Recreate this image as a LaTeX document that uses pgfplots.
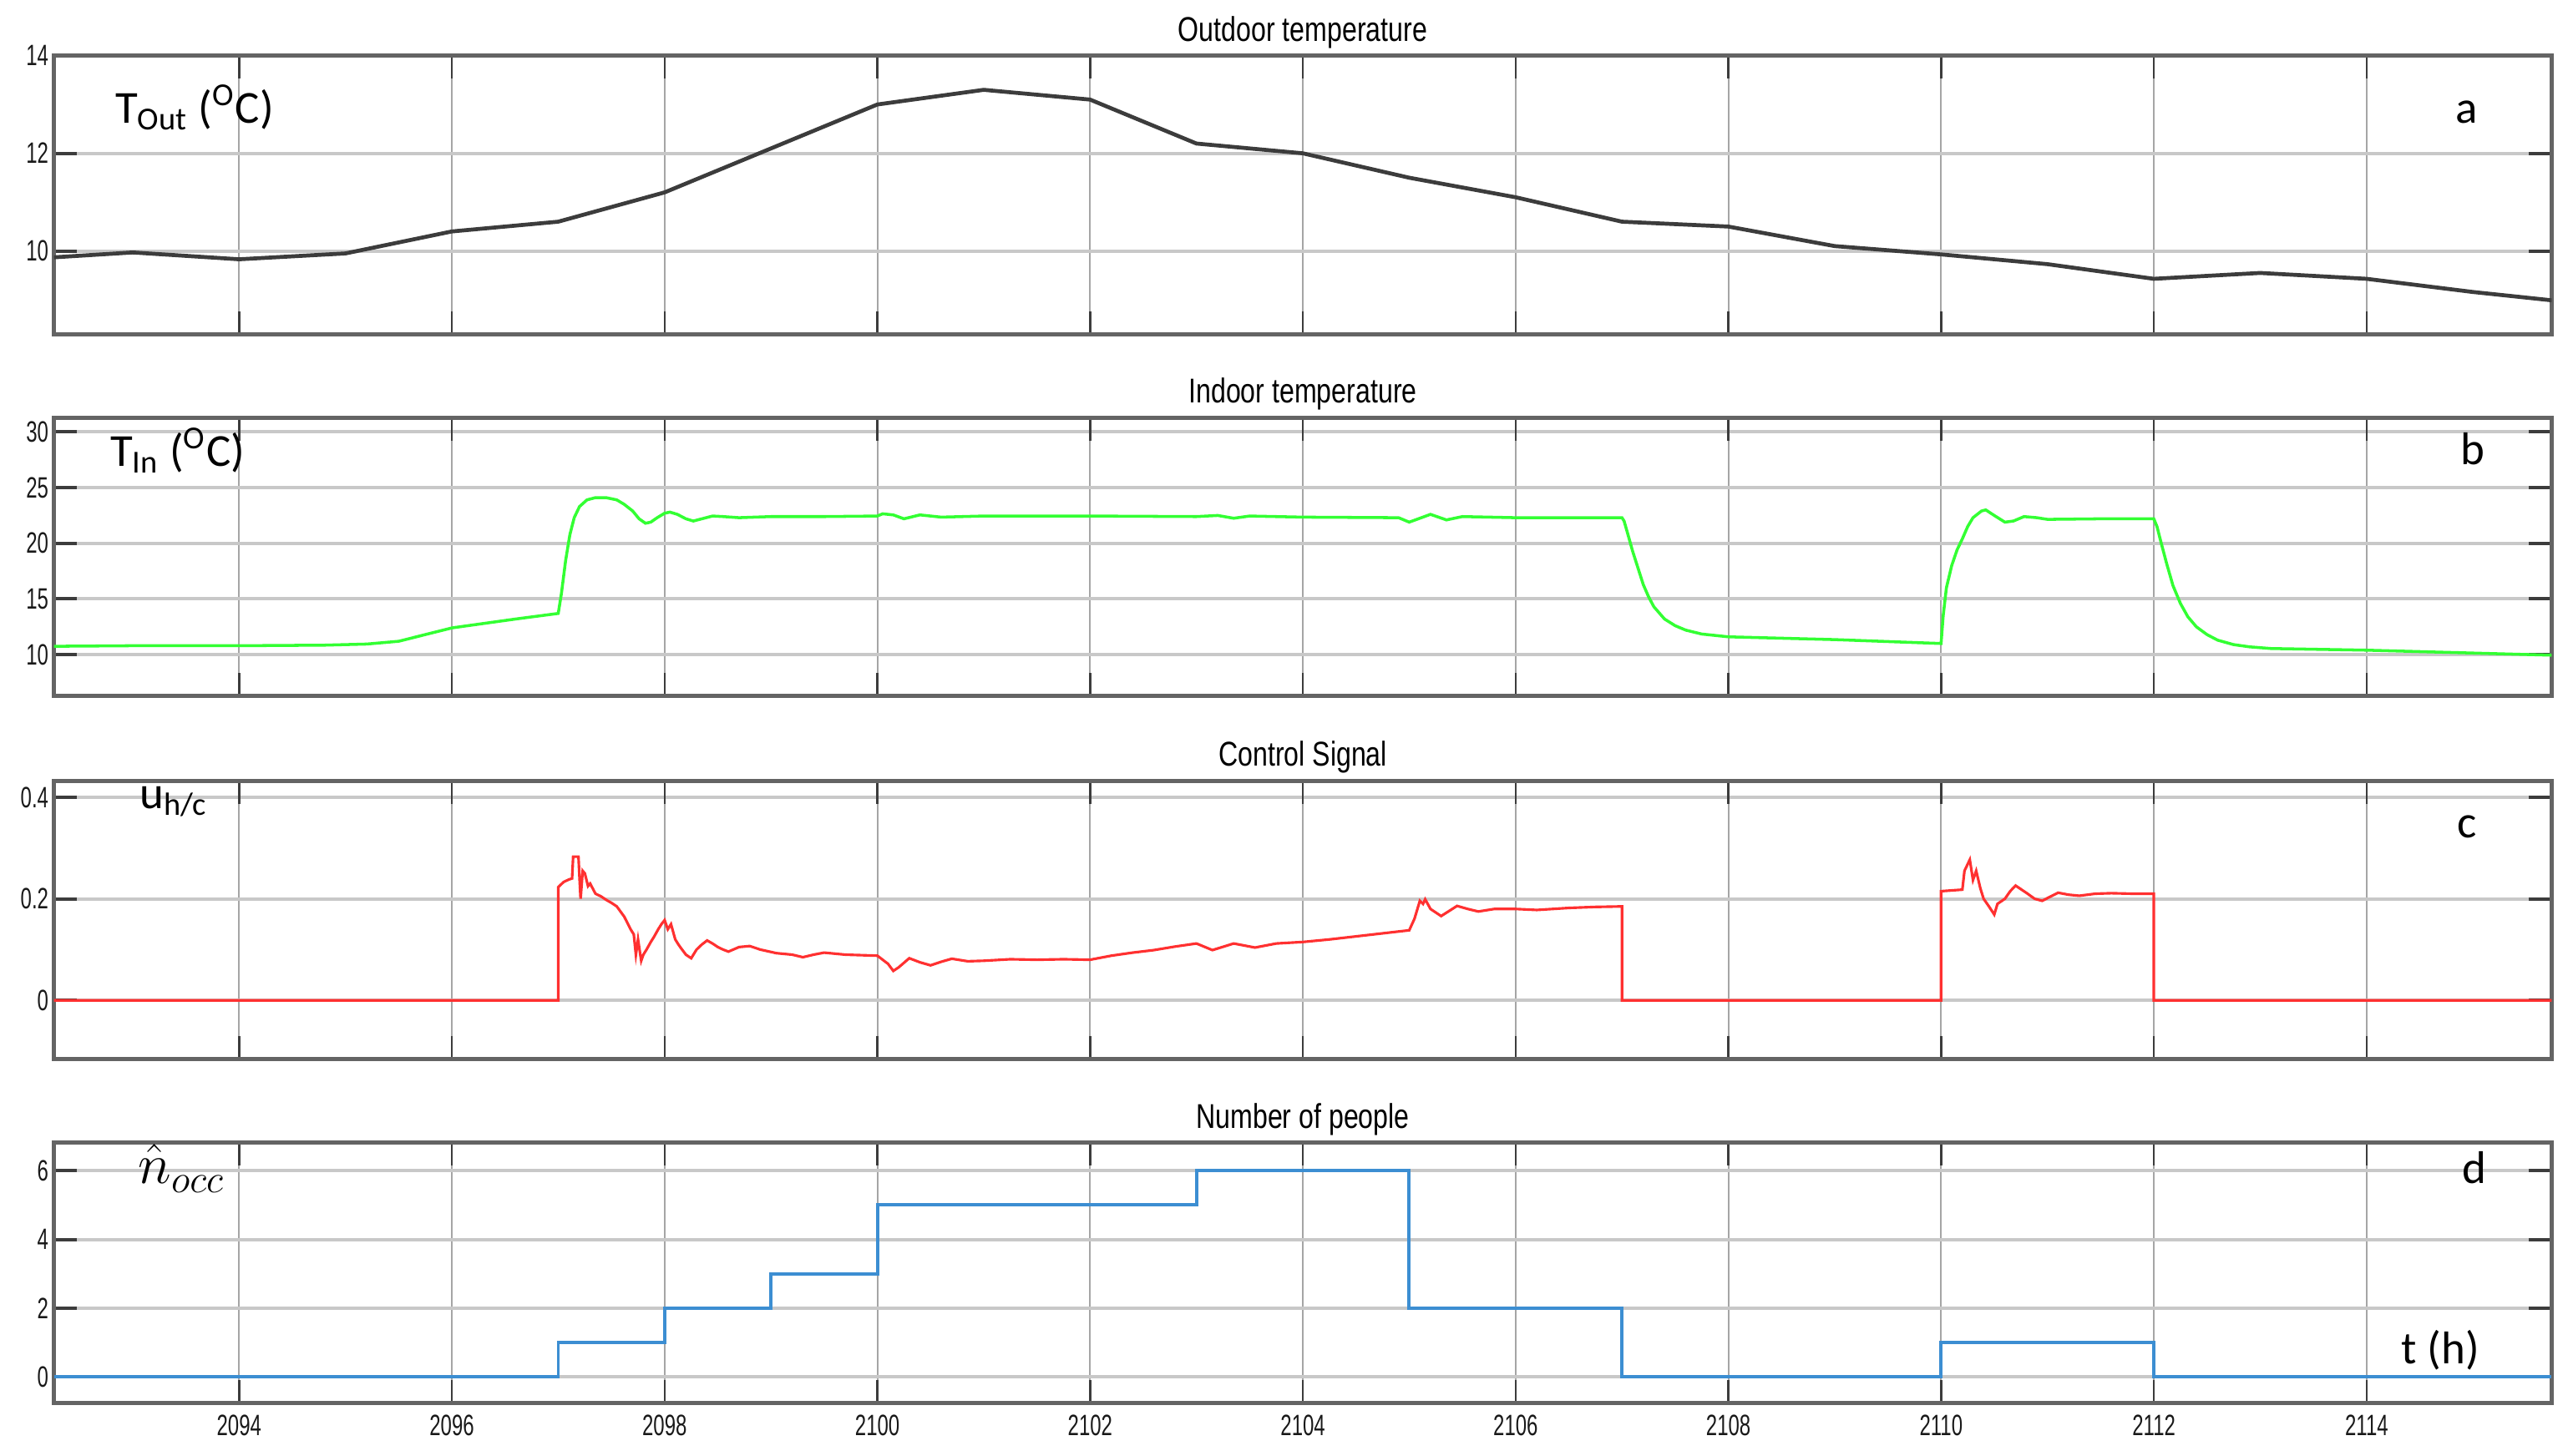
\documentclass[border=0pt]{standalone}
\usepackage{fontspec}
\usepackage{pgfplots}
\pgfplotsset{compat=1.18}
\setmainfont{Liberation Sans}
\newfontfamily\condfont[FakeStretch=0.78]{Liberation Sans}
\newfontfamily\tickfont[FakeStretch=0.68]{Liberation Sans}
\newfontfamily\calfont{Carlito}
\definecolor{hgrid}{RGB}{200,200,200}
\definecolor{vgrid}{RGB}{165,165,165}
\definecolor{tickc}{RGB}{60,60,60}
\definecolor{framec}{RGB}{100,100,100}
\definecolor{outc}{RGB}{60,60,60}
\definecolor{inc}{RGB}{51,255,51}
\definecolor{ctrlc}{RGB}{255,48,48}
\definecolor{occc}{RGB}{60,142,210}
\pgfplotsset{
  every axis title shift=0pt,
  panel/.style={
    scale only axis, width=762.5pt, xmin=2092.26, xmax=2115.74,
    xtick={2094,2096,...,2114}, grid=major,
    tick align=inside, major tick length=7pt,
    x grid style={color=vgrid, line width=0.5pt},
    y grid style={color=hgrid, line width=1pt},
    xtick style={color=tickc, line width=0.6pt},
    ytick style={color=tickc, line width=1pt},
    axis line style={color=framec, line width=1.3pt},
    /pgf/number format/assume math mode=true,
    /pgf/number format/1000 sep={},
    ticklabel style={font=\tickfont\fontsize{9}{10}\selectfont, color=black!90},
    yticklabel style={inner sep=1.5pt},
    title style={font=\condfont\fontsize{10.5}{12}\selectfont, at={(0.5,1)}, anchor=base, yshift=4.5pt},
    anchor=south west,
  }
}
\begin{document}
\begin{tikzpicture}
\useasboundingbox (0,0) rectangle (784pt,444.5pt);
% Panel a
\begin{axis}[panel, at={(16.5pt,342.5pt)}, height=85pt, ymin=8.3, ymax=14,
  ytick={10,12,14}, xticklabels={}, title={Outdoor temperature}]
\addplot[color=outc, line width=1.2pt] coordinates {
(2092.26,9.87) (2093,9.97) (2094,9.83) (2095,9.95) (2096,10.4) (2097,10.6)
(2098,11.2) (2099,12.1) (2100,13.0) (2101,13.3) (2102,13.1) (2103,12.2)
(2104,12.0) (2105,11.5) (2106,11.1) (2107,10.6) (2108,10.5) (2109,10.1)
(2110,9.93) (2111,9.73) (2112,9.43) (2113,9.55) (2114,9.43) (2115,9.16) (2115.74,8.99)};
\end{axis}
% Panel b
\begin{axis}[panel, at={(16.5pt,232pt)}, height=85pt, ymin=6.3, ymax=31.3,
  ytick={10,15,20,25,30}, xticklabels={}, title={Indoor temperature}]
\addplot[color=inc, line width=0.9pt] coordinates {
(2092.26,10.75) (2093,10.8) (2094,10.8) (2094.8,10.85) (2095.2,10.95) (2095.5,11.2)
(2095.75,11.8) (2096,12.4) (2096.3,12.8) (2096.6,13.2) (2097,13.7)
(2097.03,15.5) (2097.07,18.5) (2097.11,20.8) (2097.15,22.3) (2097.2,23.3) (2097.27,23.9)
(2097.35,24.1) (2097.45,24.1) (2097.55,23.9) (2097.62,23.5) (2097.7,22.9) (2097.76,22.2)
(2097.82,21.8) (2097.87,21.9) (2097.93,22.3) (2098.0,22.7) (2098.05,22.8) (2098.12,22.6)
(2098.2,22.2) (2098.27,22.0) (2098.35,22.2) (2098.45,22.45) (2098.55,22.4) (2098.7,22.3)
(2099,22.4) (2099.5,22.4) (2100,22.45) (2100.05,22.65) (2100.15,22.55)
(2100.25,22.2) (2100.4,22.55) (2100.6,22.35) (2101,22.45) (2102,22.45) (2103,22.4)
(2103.2,22.5) (2103.35,22.25) (2103.5,22.45) (2104,22.35) (2104.9,22.3) (2105,21.9)
(2105.2,22.6) (2105.35,22.1) (2105.5,22.4) (2106,22.3) (2107,22.3)
(2107.02,22.0) (2107.05,21.0) (2107.1,19.3) (2107.15,17.8) (2107.2,16.3) (2107.25,15.2)
(2107.3,14.3) (2107.4,13.2) (2107.5,12.6) (2107.6,12.2) (2107.75,11.85) (2107.9,11.7)
(2108,11.6) (2109,11.35) (2110,11.0)
(2110.02,13.5) (2110.05,16.0) (2110.1,18.0) (2110.15,19.4) (2110.2,20.4) (2110.25,21.5)
(2110.3,22.3) (2110.38,22.9) (2110.42,23.0) (2110.5,22.5) (2110.6,21.9) (2110.68,22.0)
(2110.78,22.4) (2110.9,22.3) (2111,22.15) (2111.5,22.2) (2112,22.2)
(2112.03,21.5) (2112.07,20.0) (2112.12,18.2) (2112.18,16.2) (2112.25,14.6) (2112.32,13.4)
(2112.4,12.5) (2112.5,11.8) (2112.6,11.3) (2112.75,10.9) (2112.9,10.7) (2113.1,10.55)
(2114,10.4) (2115.74,9.95)};
\end{axis}
% Panel c
\begin{axis}[panel, at={(16.5pt,121pt)}, height=85pt, ymin=-0.116, ymax=0.432,
  ytick={0,0.2,0.4}, xticklabels={}, title={Control Signal}]
\addplot[color=ctrlc, line width=0.8pt] coordinates {
(2092.26,0) (2097,0) (2097,0.223) (2097.05,0.233) (2097.1,0.238) (2097.13,0.24)
(2097.14,0.283) (2097.19,0.283) (2097.2,0.24) (2097.21,0.2) (2097.23,0.255) (2097.25,0.25)
(2097.28,0.225) (2097.3,0.23) (2097.35,0.21) (2097.4,0.205) (2097.45,0.198) (2097.5,0.192)
(2097.55,0.185) (2097.62,0.165) (2097.68,0.14) (2097.71,0.13) (2097.73,0.09) (2097.75,0.12)
(2097.78,0.078) (2097.8,0.09) (2097.83,0.1) (2097.87,0.115) (2097.9,0.125) (2097.94,0.14)
(2097.97,0.15) (2098.0,0.158) (2098.03,0.14) (2098.06,0.15) (2098.1,0.12) (2098.13,0.11)
(2098.15,0.104) (2098.2,0.09) (2098.25,0.083) (2098.3,0.1) (2098.35,0.11) (2098.4,0.118)
(2098.45,0.112) (2098.5,0.105) (2098.55,0.1) (2098.6,0.096) (2098.7,0.105) (2098.8,0.107)
(2098.9,0.1) (2099.05,0.093) (2099.2,0.09) (2099.3,0.085) (2099.4,0.09) (2099.5,0.094)
(2099.7,0.09) (2100,0.088) (2100.1,0.072) (2100.15,0.058) (2100.2,0.065)
(2100.3,0.083) (2100.4,0.075) (2100.5,0.069) (2100.6,0.076) (2100.7,0.082) (2100.85,0.077)
(2101,0.078) (2101.25,0.081) (2101.5,0.08) (2101.75,0.081) (2102,0.08) (2102.2,0.088)
(2102.4,0.094) (2102.6,0.099) (2102.8,0.106) (2103,0.112) (2103.15,0.099) (2103.35,0.112)
(2103.55,0.104) (2103.75,0.112) (2104,0.115) (2104.25,0.12) (2104.5,0.126) (2104.75,0.132)
(2105,0.138) (2105.05,0.161) (2105.1,0.196) (2105.13,0.19) (2105.15,0.199) (2105.2,0.18)
(2105.3,0.166) (2105.45,0.186) (2105.55,0.18) (2105.65,0.175) (2105.8,0.18) (2106,0.18)
(2106.2,0.178) (2106.5,0.182) (2106.75,0.184) (2107,0.185) (2107,0)
(2110,0) (2110,0.215) (2110.2,0.218) (2110.22,0.255) (2110.27,0.277) (2110.3,0.237)
(2110.33,0.255) (2110.37,0.22) (2110.4,0.2) (2110.45,0.185) (2110.5,0.169) (2110.53,0.19)
(2110.6,0.2) (2110.65,0.215) (2110.7,0.226) (2110.8,0.212) (2110.88,0.2) (2110.95,0.196)
(2111.1,0.212) (2111.2,0.208) (2111.3,0.206) (2111.45,0.21) (2111.6,0.211) (2111.8,0.21)
(2112,0.21) (2112,0) (2115.74,0)};
\end{axis}
% Panel d
\begin{axis}[panel, at={(16.5pt,16pt)}, height=79.5pt, ymin=-0.76, ymax=6.81,
  ytick={0,2,4,6}, title={Number of people}]
\addplot[color=occc, line width=1pt, const plot] coordinates {
(2092.26,0) (2097,1) (2098,2) (2099,3) (2100,5) (2103,6) (2105,2) (2107,0)
(2110,1) (2112,0) (2115.74,0)};
\end{axis}
% Labels
\begin{scope}[every node/.style={inner sep=0pt, anchor=base west, font=\calfont\fontsize{14}{16}\selectfont}]
\node at (35pt,407pt) {T\textsubscript{Out} (\textsuperscript{O}C)};
\node at (33.5pt,302.2pt) {T\textsubscript{In} (\textsuperscript{O}C)};
\node at (42.5pt,197.6pt) {u\textsubscript{h/c}};
\node[font=\fontsize{17}{19}\selectfont] at (42pt,83pt) {$\hat{n}_{occ}$};
\node at (749.5pt,407pt) {a};
\node at (751pt,302.5pt) {b};
\node at (750pt,188.7pt) {c};
\node at (751.5pt,83pt) {d};
\node at (733pt,28pt) {t (h)};
\end{scope}
\end{tikzpicture}
\end{document}
